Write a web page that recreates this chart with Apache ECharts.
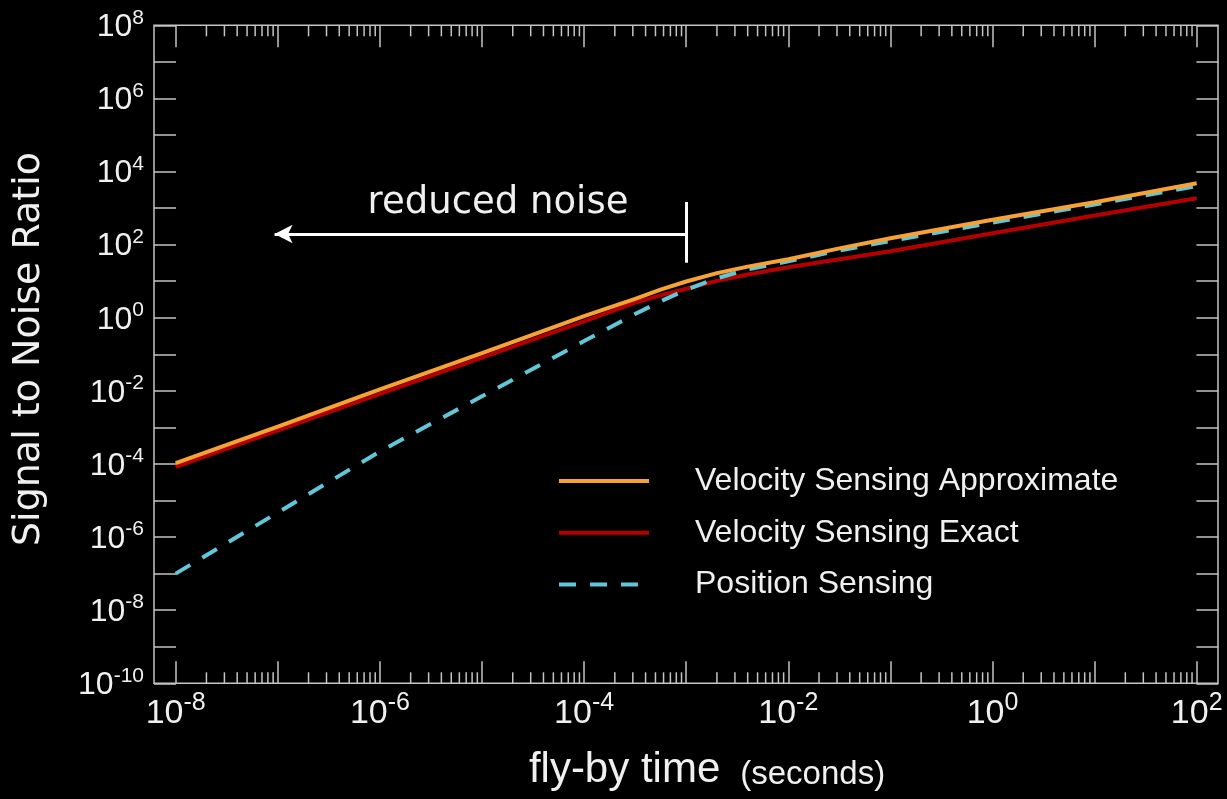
<!DOCTYPE html>
<html><head><meta charset="utf-8">
<script src="https://cdn.jsdelivr.net/npm/echarts@6/dist/echarts.min.js"></script>
<style>html,body{margin:0;padding:0;background:#000;}#c{width:1227px;height:799px;}</style>
</head><body><div id="c"></div>
<script>
// fly-by time (seconds)
const flyByTime = [1e-8, 1e-7, 1e-6, 1e-5, 1e-4, 3.16e-4, 5.6e-4, 1e-3, 2e-3, 4e-3, 1e-2, 3.16e-2, 1e-1, 1, 10, 100];
// Signal to noise ratio
const velocityApprox = [1.05e-4, 1.05e-3, 1.1e-2, 0.107, 1.1, 3.3, 5.9, 9.8, 16.6, 25, 40, 79, 150, 480, 1450, 4800];
const velocityExact  = [8.3e-5, 8.3e-4, 8.3e-3, 8.1e-2, 0.79, 2.6, 4.1, 6.2, 10.2, 15.3, 24, 40, 66, 204, 630, 1860];
const positionSens   = [1.0e-7, 4.7e-6, 2.2e-4, 7.1e-3, 0.23, 1.26, 2.8, 5.8, 12, 21, 35, 69, 126, 400, 1260, 4000];
const seriesNames = ['Velocity Sensing Approximate', 'Velocity Sensing Exact', 'Position Sensing'];
// axis decades (exponents) and minor tick multipliers
const xDecadeMin = -8, xDecadeMax = 2;
const yDecadeMin = -10, yDecadeMax = 8;
const minorMultipliers = [2, 3, 4, 5, 6, 7, 8, 9];
// annotation
const annotationText = 'reduced noise';
const arrowY = 195, arrowStartX = 1e-3, arrowEndX = 9.3e-8;
const barTopY = 1470, barBottomY = 32;

const pair = (xs, ys) => xs.map((x, i) => [x, ys[i]]);
const minorTickData = [];
for (let d = xDecadeMin; d < xDecadeMax; d++) {
  minorMultipliers.forEach(m => minorTickData.push([m * Math.pow(10, d), 1]));
}

const TICK = '#c4c4c4';
const LABEL = '#f0f0f0';
const supLabel = (v) => (v % 2 === 0 ? '{b|10}{s|' + v + '}' : '');
const tickStyle = {inside: true, length: 22, lineStyle: {color: TICK, width: 1.5}};

const chart = echarts.init(document.getElementById('c'), null, {renderer: 'canvas'});
const option = {
  backgroundColor: '#000',
  animation: false,
  grid: {left: 175.7, right: 30.3, top: 25.3, bottom: 115.7, containLabel: false},
  xAxis: [
    {type: 'log', min: 1e-8, max: 1e2, show: false, axisLine: {onZero: false}},
    {type: 'value', min: xDecadeMin, max: xDecadeMax, interval: 1, position: 'bottom',
      axisLine: {show: false, onZero: false}, splitLine: {show: false}, axisTick: tickStyle,
      axisLabel: {margin: 7, formatter: supLabel, color: LABEL,
        rich: {
          b: {fontFamily: 'Liberation Sans', fontSize: 34, color: LABEL, lineHeight: 40, verticalAlign: 'bottom'},
          s: {fontFamily: 'Liberation Sans', fontSize: 25, color: LABEL, lineHeight: 25, verticalAlign: 'top'}
        }}},
    {type: 'value', min: xDecadeMin, max: xDecadeMax, interval: 1, position: 'top',
      axisLine: {show: false, onZero: false}, splitLine: {show: false}, axisLabel: {show: false}, axisTick: tickStyle}
  ],
  yAxis: [
    {type: 'log', min: 1e-10, max: 1e8, show: false, axisLine: {onZero: false}},
    {type: 'value', min: yDecadeMin, max: yDecadeMax, interval: 1, position: 'left', offset: 21.7,
      axisLine: {show: false, onZero: false}, splitLine: {show: false}, axisTick: tickStyle,
      axisLabel: {margin: 10, formatter: supLabel, color: LABEL,
        rich: {
          b: {fontFamily: 'Liberation Sans', fontSize: 32, color: LABEL, lineHeight: 36, verticalAlign: 'bottom'},
          s: {fontFamily: 'Liberation Sans', fontSize: 21, color: LABEL, lineHeight: 21, verticalAlign: 'top'}
        }}},
    {type: 'value', min: yDecadeMin, max: yDecadeMax, interval: 1, position: 'right', offset: 21.7,
      axisLine: {show: false, onZero: false}, splitLine: {show: false}, axisLabel: {show: false}, axisTick: tickStyle}
  ],
  legend: {
    data: seriesNames, orient: 'vertical', left: 557, top: 461, padding: 0,
    itemWidth: 90, itemHeight: 4, itemGap: 11.7,
    itemStyle: {opacity: 0},
    lineStyle: {width: 4},
    textStyle: {color: LABEL, fontFamily: 'Liberation Sans', fontSize: 32, lineHeight: 40, padding: [0, 0, 0, 41]}
  },
  graphic: [
    {type: 'rect', silent: true, z: 10,
      shape: {x: 154, y: 25.3, width: 1064, height: 658},
      style: {fill: 'none', stroke: TICK, lineWidth: 1.5}},
    {type: 'text', x: 29, y: 349, rotation: Math.PI / 2, silent: true,
      style: {text: 'Signal to Noise Ratio', fill: LABEL, font: '38px "DejaVu Sans"', align: 'center', verticalAlign: 'middle'}},
    {type: 'text', x: 707, y: 770, silent: true,
      style: {text: '{a|fly-by time}{c|(seconds)}', align: 'center', verticalAlign: 'middle',
        rich: {a: {fontFamily: 'Liberation Sans', fontSize: 42, fill: LABEL, color: LABEL, verticalAlign: 'bottom'},
               c: {fontFamily: 'Liberation Sans', fontSize: 33, fill: LABEL, color: LABEL, verticalAlign: 'bottom', padding: [0, 0, 0, 20]}}}},
    {type: 'text', x: 498, y: 203, silent: true,
      style: {text: annotationText, fill: LABEL, font: '37px "DejaVu Sans"', align: 'center', verticalAlign: 'middle'}}
  ],
  series: [
    {name: seriesNames[1], type: 'line', xAxisIndex: 0, yAxisIndex: 0, data: pair(flyByTime, velocityExact),
      symbol: 'none', z: 3, color: '#b40000', lineStyle: {color: '#b40000', width: 4}},
    {name: seriesNames[2], type: 'line', xAxisIndex: 0, yAxisIndex: 0, data: pair(flyByTime, positionSens),
      symbol: 'none', z: 4, color: '#62c6d9', lineStyle: {color: '#62c6d9', width: 4, type: [17, 14]}},
    {name: seriesNames[0], type: 'line', xAxisIndex: 0, yAxisIndex: 0, data: pair(flyByTime, velocityApprox),
      symbol: 'none', z: 5, color: '#f7a235', lineStyle: {color: '#f7a235', width: 4},
      markLine: {silent: true, animation: false, label: {show: false},
        lineStyle: {color: '#ffffff', width: 3, type: 'solid'},
        data: [
          [{coord: [arrowStartX, arrowY], symbol: 'none'}, {coord: [arrowEndX, arrowY], symbol: 'arrow', symbolSize: [14, 18]}],
          [{coord: [arrowStartX, barTopY], symbol: 'none'}, {coord: [arrowStartX, barBottomY], symbol: 'none'}]
        ]}},
    {name: 'minorTicks', type: 'custom', xAxisIndex: 0, yAxisIndex: 0, silent: true, z: 6,
      data: minorTickData,
      renderItem: function (params, api) {
        const x = api.value(0);
        const b = api.coord([x, 1e-10]);
        const t = api.coord([x, 1e8]);
        const st = {stroke: TICK, lineWidth: 1.5};
        return {type: 'group', children: [
          {type: 'line', shape: {x1: b[0], y1: b[1], x2: b[0], y2: b[1] - 11}, style: st},
          {type: 'line', shape: {x1: t[0], y1: t[1], x2: t[0], y2: t[1] + 11}, style: st}
        ]};
      }}
  ]
};
chart.setOption(option);
</script>
</body></html>
